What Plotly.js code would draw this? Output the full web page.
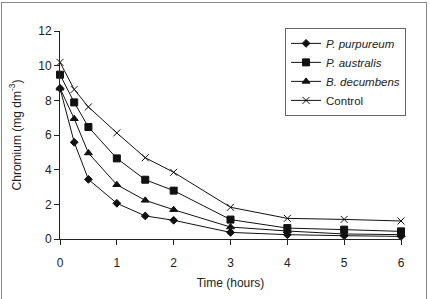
<!DOCTYPE html>
<html>
<head>
<meta charset="utf-8">
<script src="https://cdn.plot.ly/plotly-3.0.1.min.js"></script>
<style>
  html, body { margin: 0; padding: 0; background: #fff; }
  #frame {
    position: absolute; left: 1px; top: 2px; width: 426px; height: 310px;
    border: 1.5px solid #8a8a8a; border-bottom: none; box-sizing: border-box;
  }
  #chart { position: absolute; left: 0; top: 0; width: 430px; height: 299px; }
</style>
</head>
<body>
<div id="frame"></div>
<div id="chart"></div>
<script>
// Sampling times (hours)
const timeHours = [0, 0.25, 0.5, 1, 1.5, 2, 3, 4, 5, 6];

// Residual chromium concentration (mg dm^-3) for each treatment
const pPurpureum = [8.69, 5.58, 3.44, 2.06, 1.33, 1.08, 0.38, 0.25, 0.19, 0.15];
const pAustralis = [9.48, 7.88, 6.46, 4.65, 3.42, 2.79, 1.12, 0.63, 0.54, 0.44];
const bDecumbens = [8.70, 6.94, 4.96, 3.13, 2.23, 1.69, 0.69, 0.46, 0.29, 0.25];
const control    = [10.19, 8.63, 7.62, 6.12, 4.69, 3.85, 1.83, 1.19, 1.13, 1.04];

const seriesNames = ['<i>P. purpureum</i>', '<i>P. australis</i>', '<i>B. decumbens</i>', 'Control'];

const xTicks = [0, 1, 2, 3, 4, 5, 6];
const yTicks = [0, 2, 4, 6, 8, 10, 12];

const ink = '#111';
function series(y, name, symbol, size) {
  return {
    x: timeHours, y: y, name: name, type: 'scatter', mode: 'lines+markers',
    line: { color: ink, width: 1 },
    marker: { symbol: symbol, size: size, color: ink, line: { color: ink, width: 1 } },
    cliponaxis: false
  };
}

const data = [
  series(pPurpureum, seriesNames[0], 'diamond', 6),
  series(pAustralis, seriesNames[1], 'square', 7),
  series(bDecumbens, seriesNames[2], 'triangle-up', 7),
  series(control, seriesNames[3], 'x-thin-open', 7)
];

const family = '"Liberation Sans", Arial, sans-serif';
const font = { family: family, size: 12, color: '#222' };

const layout = {
  width: 430, height: 299,
  margin: { l: 60, r: 29, t: 31, b: 60 },
  paper_bgcolor: 'rgba(0,0,0,0)', plot_bgcolor: 'rgba(0,0,0,0)',
  font: font,
  showlegend: true,
  legend: {
    x: 0.66, y: 1.015, xanchor: 'left', yanchor: 'top',
    bgcolor: '#fff', bordercolor: '#666', borderwidth: 1,
    font: { family: family, size: 11.5, color: '#222' },
    itemwidth: 30, tracegroupgap: 0
  },
  xaxis: {
    range: [0, 6], tickvals: xTicks, ticktext: xTicks.map(String),
    showgrid: false, zeroline: false, showline: true, linecolor: '#222', linewidth: 1,
    ticks: 'outside', ticklen: 5, tickcolor: '#222', ticklabelstandoff: 8,
    tickfont: font,
    title: { text: 'Time (hours)', font: font, standoff: 9 }
  },
  yaxis: {
    range: [0, 12], tickvals: yTicks, ticktext: yTicks.map(String),
    showgrid: false, zeroline: false, showline: true, linecolor: '#222', linewidth: 1,
    ticks: 'outside', ticklen: 5, tickcolor: '#222',
    tickfont: font,
    title: { text: 'Chromium (mg dm<sup>-3</sup>)', font: font, standoff: 14 }
  }
};

Plotly.newPlot('chart', data, layout, { displayModeBar: false, staticPlot: true });
</script>
</body>
</html>
